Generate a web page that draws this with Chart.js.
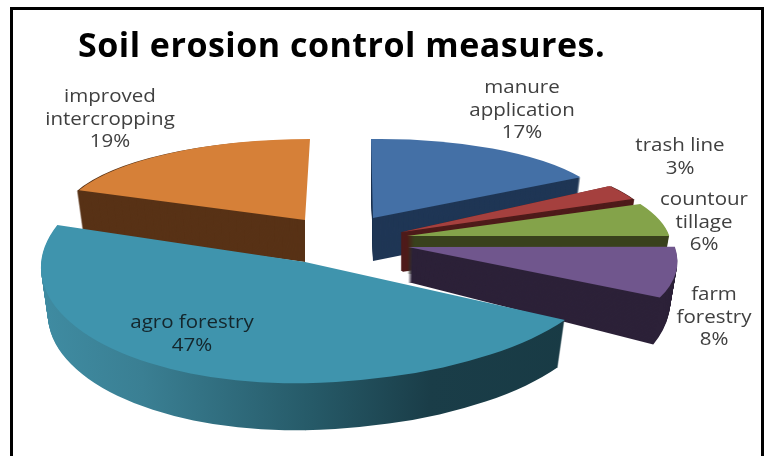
<!DOCTYPE html>
<html><head><meta charset="utf-8">
<style>html,body{margin:0;padding:0;background:#fff}#w{width:768px;height:456px;position:relative}</style>
<script src="https://cdn.jsdelivr.net/npm/chart.js@4"></script>
</head><body><div id="w"><canvas id="c" width="768" height="456"></canvas></div>
<script>
const titleText = "Soil erosion control measures.";
const categories = ["manure application","trash line","countour tillage","farm forestry","agro forestry","improved intercropping"];
const values = [17,3,6,8,47,19];
const topColors = ["#4470a6","#a5403e","#84a34a","#70568d","#3f94ad","#d68038"];
const wallColors = ["#1f3655","#4e1b1a","#39411c","#2c2138",null,"#583216"];

// Camera pose of each exploded slice: shift from pie origin and how the unit circle is foreshortened.
const pieOrigin = {x:345,y:240};
const poses = [
 {ox:28,oy:-22,a:238,b:-3,c:2,d:79,depth:43},
 {ox:57,oy:-8,a:250,b:-9,c:24,d:79,depth:39,edge:4},
 {ox:62,oy:-4,a:260,b:-5.5,c:45,d:87,depth:38},
 {ox:63,oy:7,a:264,b:-7,c:54,d:105.5,depth:35,grow:0.235},
 {ox:-40,oy:22,a:304,aLeft:264,b:-8,c:6,d:121,depth:47},
 {ox:-40,oy:-20,a:245,b:0,c:-5,wallC:2,d:81,depth:42}
];
const drawOrder = [5,0,1,2,3,4];
const labelStyle = [
 {x:522,y:88,color:"#404040"},{x:680,y:146,color:"#404040"},{x:704,y:200,color:"#404040"},
 {x:714,y:295,color:"#404040"},{x:192,y:323,color:"#14262c"},{x:110,y:97,color:"#404040"}
];
const labelLines = [["manure","application"],["trash line"],["countour","tillage"],["farm","forestry"],["agro forestry"],["improved","intercropping"]];
const labelStretch = 1.14;

function piece(ctx,el,p,level,fill,side,edge){
  const R=el.outerRadius, t=level/Math.max(p.depth,1), sh=1-0.026*t, gr=1+(p.grow||0)*t;
  const cc=(level>0&&p.wallC!==undefined)?p.wallC:p.c;
  const a=(side==='left'?p.aLeft:p.a)*sh/R, c=cc*sh/R, b=p.b*gr/R, d=p.d*gr/R;
  const ax=pieOrigin.x+p.ox, ay=pieOrigin.y+p.oy+level;
  ctx.save();
  if(side){
    ctx.beginPath();
    if(side==='left') ctx.rect(0,0,ax+0.5,456); else ctx.rect(ax,0,768,456);
    ctx.clip();
  }
  ctx.transform(a,b,c,d,ax-(a*el.x+c*el.y),ay-(b*el.x+d*el.y));
  const saved=el.options;
  let style=fill;
  if(typeof fill==='function') style=fill(ctx,el);
  el.options=Object.assign({},saved,{backgroundColor:style,borderColor:style,borderWidth:edge||0,borderJoinStyle:'bevel'});
  el.draw(ctx);
  el.options=saved;
  ctx.restore();
}
function agroWall(ctx,el){
  const R=el.outerRadius;
  const g=ctx.createLinearGradient(el.x-R,0,el.x+R,0);
  g.addColorStop(0,"#3f8ba1"); g.addColorStop(0.18,"#3a7f93");
  g.addColorStop(0.5,"#265a68"); g.addColorStop(0.7,"#1a3d48"); g.addColorStop(1,"#183a44");
  return g;
}
const pie3d = {
  id:'pie3d',
  beforeDraw(chart){
    const ctx=chart.ctx;
    ctx.save();
    ctx.fillStyle='#fff'; ctx.fillRect(0,0,768,456);
    ctx.fillStyle='#000';
    ctx.fillRect(10,7,754,3);
    ctx.fillRect(10,7,3,449);
    ctx.fillRect(761,7,3,449);
    ctx.restore();
    ctx.letterSpacing='0.5px';
  },
  beforeDatasetsDraw(chart){
    const ctx=chart.ctx, arcs=chart.getDatasetMeta(0).data;
    ctx.letterSpacing='0px';
    for(const i of drawOrder){
      const el=arcs[i], p=poses[i];
      const wall=wallColors[i]||agroWall;
      const sides=p.aLeft?['left','right']:[null];
      for(const s of sides){
        for(let k=p.depth;k>=1;k--) piece(ctx,el,p,k,wall,s,p.edge);
        piece(ctx,el,p,0,topColors[i],s,0);
      }
    }
    ctx.save();
    ctx.textAlign='center'; ctx.textBaseline='middle';
    ctx.font='18px "Open Sans"';
    values.forEach((v,i)=>{
      const st=labelStyle[i], lines=[...labelLines[i],v+"%"];
      ctx.fillStyle=st.color;
      lines.forEach((ln,j)=>{
        ctx.save();
        ctx.translate(st.x,st.y+j*22.5);
        ctx.scale(labelStretch,1);
        ctx.fillText(ln,0,0);
        ctx.restore();
      });
    });
    ctx.restore();
    return false;
  }
};
new Chart(document.getElementById('c'),{
  type:'pie',
  data:{labels:categories,datasets:[{data:values,backgroundColor:topColors,borderWidth:0}]},
  options:{
    responsive:false,animation:false,events:[],
    layout:{padding:{left:78,right:78,top:27,bottom:0}},
    plugins:{
      legend:{display:false},tooltip:{enabled:false},
      title:{display:true,text:titleText,align:'start',color:'#000',padding:{top:0,bottom:0},
        font:{family:'"Open Sans"',weight:'bold',size:34}}
    }
  },
  plugins:[pie3d]
});
</script></body></html>
